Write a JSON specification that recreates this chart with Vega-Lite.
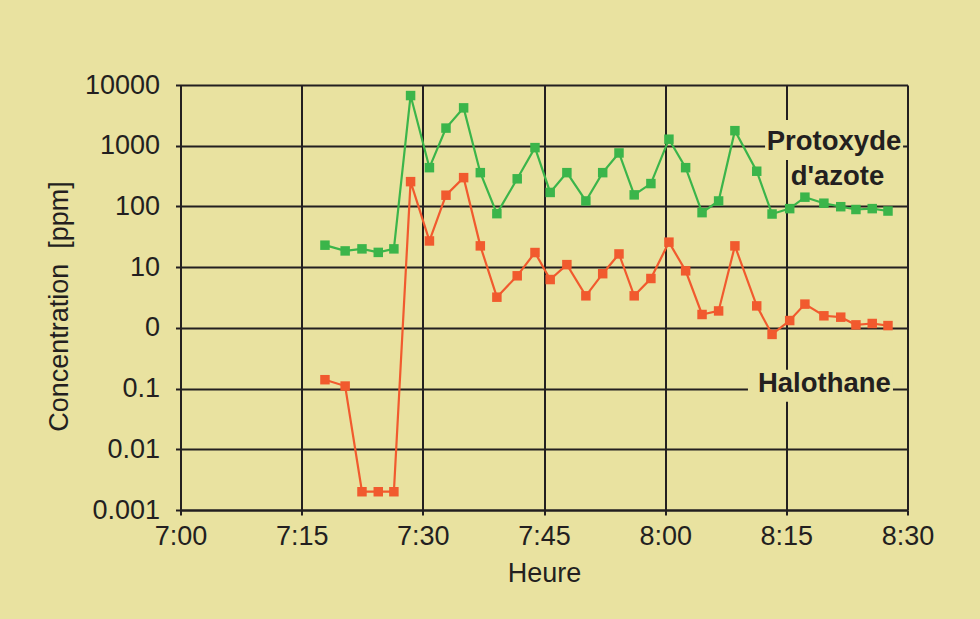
{
  "$schema": "https://vega.github.io/schema/vega-lite/v6.json",
  "width": 727,
  "height": 425,
  "autosize": {"type": "none"},
  "padding": {"left": 180.5, "top": 85, "right": 72.5, "bottom": 109},
  "background": "#E9E2A0",
  "config": {
    "view": {"stroke": null},
    "font": "Liberation Sans",
    "axis": {
      "grid": true,
      "gridColor": "#231F20",
      "gridWidth": 2,
      "gridOpacity": 1,
      "domainColor": "#231F20",
      "domainWidth": 2,
      "tickColor": "#231F20",
      "tickWidth": 2,
      "tickSize": 5,
      "labelFont": "Liberation Sans",
      "labelFontSize": 27,
      "labelColor": "#231F20",
      "titleFont": "Liberation Sans",
      "titleFontSize": 27,
      "titleFontWeight": "normal",
      "titleColor": "#231F20"
    }
  },
  "datasets": {
    "mesures": [
      {"t": "2000-01-01T07:17:53", "gaz": "Protoxyde d'azote", "ppm": 23},
      {"t": "2000-01-01T07:20:23", "gaz": "Protoxyde d'azote", "ppm": 18.5},
      {"t": "2000-01-01T07:22:28", "gaz": "Protoxyde d'azote", "ppm": 20},
      {"t": "2000-01-01T07:24:29", "gaz": "Protoxyde d'azote", "ppm": 17.5},
      {"t": "2000-01-01T07:26:25", "gaz": "Protoxyde d'azote", "ppm": 20},
      {"t": "2000-01-01T07:28:29", "gaz": "Protoxyde d'azote", "ppm": 6700},
      {"t": "2000-01-01T07:30:49", "gaz": "Protoxyde d'azote", "ppm": 435},
      {"t": "2000-01-01T07:32:52", "gaz": "Protoxyde d'azote", "ppm": 1950},
      {"t": "2000-01-01T07:35:03", "gaz": "Protoxyde d'azote", "ppm": 4200},
      {"t": "2000-01-01T07:37:07", "gaz": "Protoxyde d'azote", "ppm": 360},
      {"t": "2000-01-01T07:39:10", "gaz": "Protoxyde d'azote", "ppm": 76},
      {"t": "2000-01-01T07:41:41", "gaz": "Protoxyde d'azote", "ppm": 285},
      {"t": "2000-01-01T07:43:53", "gaz": "Protoxyde d'azote", "ppm": 930},
      {"t": "2000-01-01T07:45:46", "gaz": "Protoxyde d'azote", "ppm": 170},
      {"t": "2000-01-01T07:47:50", "gaz": "Protoxyde d'azote", "ppm": 360},
      {"t": "2000-01-01T07:50:11", "gaz": "Protoxyde d'azote", "ppm": 123},
      {"t": "2000-01-01T07:52:16", "gaz": "Protoxyde d'azote", "ppm": 360},
      {"t": "2000-01-01T07:54:17", "gaz": "Protoxyde d'azote", "ppm": 760},
      {"t": "2000-01-01T07:56:10", "gaz": "Protoxyde d'azote", "ppm": 155},
      {"t": "2000-01-01T07:58:14", "gaz": "Protoxyde d'azote", "ppm": 238},
      {"t": "2000-01-01T08:00:28", "gaz": "Protoxyde d'azote", "ppm": 1280},
      {"t": "2000-01-01T08:02:32", "gaz": "Protoxyde d'azote", "ppm": 435},
      {"t": "2000-01-01T08:04:34", "gaz": "Protoxyde d'azote", "ppm": 79},
      {"t": "2000-01-01T08:06:37", "gaz": "Protoxyde d'azote", "ppm": 123},
      {"t": "2000-01-01T08:08:38", "gaz": "Protoxyde d'azote", "ppm": 1770},
      {"t": "2000-01-01T08:11:20", "gaz": "Protoxyde d'azote", "ppm": 380},
      {"t": "2000-01-01T08:13:14", "gaz": "Protoxyde d'azote", "ppm": 75},
      {"t": "2000-01-01T08:15:25", "gaz": "Protoxyde d'azote", "ppm": 92},
      {"t": "2000-01-01T08:17:18", "gaz": "Protoxyde d'azote", "ppm": 142},
      {"t": "2000-01-01T08:19:39", "gaz": "Protoxyde d'azote", "ppm": 113},
      {"t": "2000-01-01T08:21:44", "gaz": "Protoxyde d'azote", "ppm": 99},
      {"t": "2000-01-01T08:23:37", "gaz": "Protoxyde d'azote", "ppm": 89},
      {"t": "2000-01-01T08:25:38", "gaz": "Protoxyde d'azote", "ppm": 92},
      {"t": "2000-01-01T08:27:35", "gaz": "Protoxyde d'azote", "ppm": 84},
      {"t": "2000-01-01T07:17:53", "gaz": "Halothane", "ppm": 0.14},
      {"t": "2000-01-01T07:20:23", "gaz": "Halothane", "ppm": 0.11},
      {"t": "2000-01-01T07:22:28", "gaz": "Halothane", "ppm": 0.002},
      {"t": "2000-01-01T07:24:29", "gaz": "Halothane", "ppm": 0.002},
      {"t": "2000-01-01T07:26:25", "gaz": "Halothane", "ppm": 0.002},
      {"t": "2000-01-01T07:28:29", "gaz": "Halothane", "ppm": 256},
      {"t": "2000-01-01T07:30:49", "gaz": "Halothane", "ppm": 27},
      {"t": "2000-01-01T07:32:52", "gaz": "Halothane", "ppm": 153},
      {"t": "2000-01-01T07:35:03", "gaz": "Halothane", "ppm": 298},
      {"t": "2000-01-01T07:37:07", "gaz": "Halothane", "ppm": 22.4},
      {"t": "2000-01-01T07:39:10", "gaz": "Halothane", "ppm": 3.2},
      {"t": "2000-01-01T07:41:41", "gaz": "Halothane", "ppm": 7.2},
      {"t": "2000-01-01T07:43:53", "gaz": "Halothane", "ppm": 17.4},
      {"t": "2000-01-01T07:45:46", "gaz": "Halothane", "ppm": 6.25},
      {"t": "2000-01-01T07:47:50", "gaz": "Halothane", "ppm": 11},
      {"t": "2000-01-01T07:50:11", "gaz": "Halothane", "ppm": 3.37},
      {"t": "2000-01-01T07:52:16", "gaz": "Halothane", "ppm": 7.8},
      {"t": "2000-01-01T07:54:17", "gaz": "Halothane", "ppm": 16.5},
      {"t": "2000-01-01T07:56:10", "gaz": "Halothane", "ppm": 3.37},
      {"t": "2000-01-01T07:58:14", "gaz": "Halothane", "ppm": 6.5},
      {"t": "2000-01-01T08:00:28", "gaz": "Halothane", "ppm": 25.8},
      {"t": "2000-01-01T08:02:32", "gaz": "Halothane", "ppm": 8.7},
      {"t": "2000-01-01T08:04:34", "gaz": "Halothane", "ppm": 1.66},
      {"t": "2000-01-01T08:06:37", "gaz": "Halothane", "ppm": 1.9},
      {"t": "2000-01-01T08:08:38", "gaz": "Halothane", "ppm": 22.4},
      {"t": "2000-01-01T08:11:20", "gaz": "Halothane", "ppm": 2.3},
      {"t": "2000-01-01T08:13:14", "gaz": "Halothane", "ppm": 0.78},
      {"t": "2000-01-01T08:15:25", "gaz": "Halothane", "ppm": 1.32},
      {"t": "2000-01-01T08:17:18", "gaz": "Halothane", "ppm": 2.46},
      {"t": "2000-01-01T08:19:39", "gaz": "Halothane", "ppm": 1.58},
      {"t": "2000-01-01T08:21:44", "gaz": "Halothane", "ppm": 1.5},
      {"t": "2000-01-01T08:23:37", "gaz": "Halothane", "ppm": 1.12},
      {"t": "2000-01-01T08:25:38", "gaz": "Halothane", "ppm": 1.18},
      {"t": "2000-01-01T08:27:35", "gaz": "Halothane", "ppm": 1.09}
    ],
    "caches": [
      {"t": "2000-01-01T08:12:22", "t2": "2000-01-01T08:29:27", "ppm": 2655, "ppm2": 583},
      {"t": "2000-01-01T08:10:15", "t2": "2000-01-01T08:28:12", "ppm": 0.204, "ppm2": 0.0607}
    ],
    "etiquettes": [
      {"t": "2000-01-01T08:20:54", "ppm": 851, "texte": "Protoxyde"},
      {"t": "2000-01-01T08:21:20", "ppm": 226, "texte": "d'azote"},
      {"t": "2000-01-01T08:19:43", "ppm": 0.0885, "texte": "Halothane"}
    ]
  },
  "encoding": {
    "x": {
      "field": "t",
      "type": "temporal",
      "scale": {
        "domain": [
          {"year": 2000, "month": 1, "date": 1, "hours": 7, "minutes": 0},
          {"year": 2000, "month": 1, "date": 1, "hours": 8, "minutes": 30}
        ]
      },
      "axis": {
        "title": "Heure",
        "format": "%-H:%M",
        "values": [
          {"year": 2000, "month": 1, "date": 1, "hours": 7, "minutes": 0},
          {"year": 2000, "month": 1, "date": 1, "hours": 7, "minutes": 15},
          {"year": 2000, "month": 1, "date": 1, "hours": 7, "minutes": 30},
          {"year": 2000, "month": 1, "date": 1, "hours": 7, "minutes": 45},
          {"year": 2000, "month": 1, "date": 1, "hours": 8, "minutes": 0},
          {"year": 2000, "month": 1, "date": 1, "hours": 8, "minutes": 15},
          {"year": 2000, "month": 1, "date": 1, "hours": 8, "minutes": 30}
        ],
        "labelPadding": 8,
        "labelFlush": false,
        "labelOverlap": false,
        "titlePadding": 11
      }
    },
    "y": {
      "field": "ppm",
      "type": "quantitative",
      "scale": {"type": "log", "domain": [0.001, 10000]},
      "axis": {
        "title": "Concentration\u00a0 [ppm]",
        "values": [0.001, 0.01, 0.1, 1, 10, 100, 1000, 10000],
        "labelExpr": "datum.value == 1 ? '0' : toString(datum.value)",
        "labelPadding": 16,
        "labelFlush": false,
        "labelOverlap": false,
        "titleX": -121,
        "titleY": 221,
        "titleAngle": -90,
        "titleAlign": "center",
        "titleBaseline": "middle"
      }
    }
  },
  "layer": [
    {
      "data": {"name": "caches"},
      "mark": {"type": "rect", "fill": "#E9E2A0", "stroke": null},
      "encoding": {
        "x2": {"field": "t2"},
        "y2": {"field": "ppm2"}
      }
    },
    {
      "data": {"name": "mesures"},
      "mark": {
        "type": "line",
        "strokeWidth": 2.2,
        "point": {"shape": "square", "size": 90, "filled": true, "opacity": 1}
      },
      "encoding": {
        "color": {
          "field": "gaz",
          "type": "nominal",
          "scale": {"domain": ["Protoxyde d'azote", "Halothane"], "range": ["#3BB54A", "#F15A2E"]},
          "legend": null
        }
      }
    },
    {
      "data": {"name": "etiquettes"},
      "mark": {
        "type": "text",
        "font": "Liberation Sans",
        "fontSize": 27.5,
        "fontWeight": "bold",
        "color": "#231F20",
        "align": "center",
        "baseline": "alphabetic"
      },
      "encoding": {
        "text": {"field": "texte"}
      }
    }
  ]
}
